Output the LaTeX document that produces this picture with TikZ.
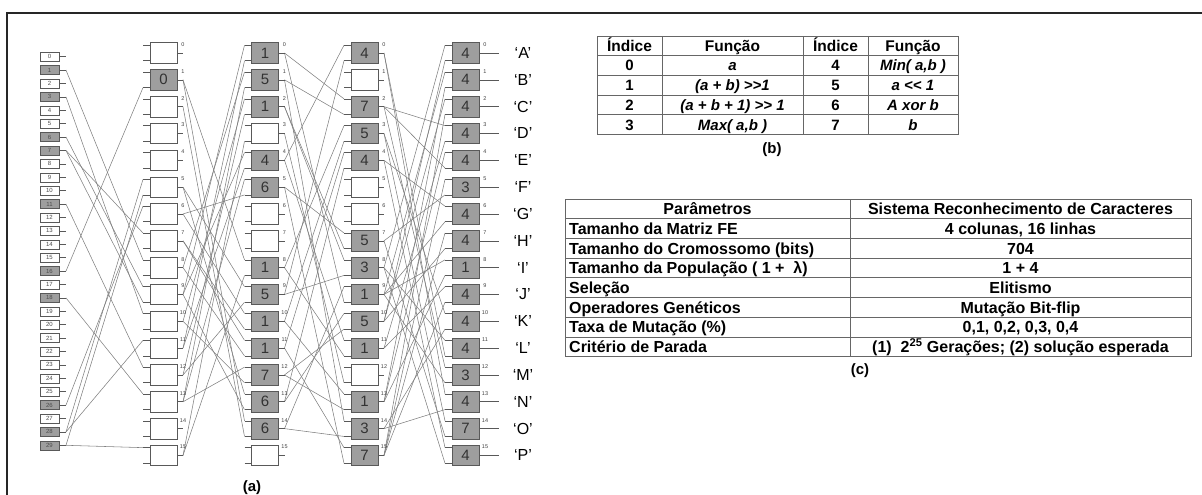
\documentclass[tikz,border=0pt]{standalone}
\usepackage{fontspec}
\setmainfont{Liberation Sans}
\setsansfont{Liberation Sans}

\begin{document}
\begin{tikzpicture}[
  x=1pt,y=-1pt,
  every node/.style={font=\sffamily},
  inbox/.style ={draw=black!65,line width=0.6pt,fill=white,
                 minimum width=19pt,minimum height=9pt,inner sep=0pt,
                 font=\sffamily\fontsize{6}{6}\selectfont,text=black!70},
  ingray/.style={inbox,fill=black!38},
  cell/.style  ={draw=black!65,line width=0.7pt,fill=white,
                 minimum width=27pt,minimum height=20.5pt,inner sep=0pt,
                 font=\sffamily\fontsize{15}{15}\selectfont,text=black!80},
  cellg/.style ={cell,fill=black!38},
  idx/.style   ={font=\sffamily\fontsize{5.5}{5.5}\selectfont,inner sep=0pt,text=black!75},
  stub/.style  ={black!65,line width=0.6pt},
  wire/.style  ={black!50,line width=0.55pt},
  outl/.style  ={font=\sffamily\fontsize{16}{16}\selectfont,inner sep=0pt},
  tgrid/.style ={black!60,line width=0.8pt},
  thead/.style ={font=\sffamily\bfseries\fontsize{15.5}{15.5}\selectfont,inner sep=0pt,
                 text height=11pt,text depth=0pt},
  tcell/.style ={font=\sffamily\bfseries\fontsize{15}{15}\selectfont,inner sep=0pt,
                 text height=10.8pt,text depth=0pt},
  tfun/.style  ={tcell,font=\sffamily\bfseries\itshape\fontsize{15}{15}\selectfont},
  ptext/.style ={font=\sffamily\bfseries\fontsize{16}{16}\selectfont,inner sep=0pt,
                 text height=11.5pt,text depth=0pt},
  sublabel/.style={font=\sffamily\bfseries\fontsize{15}{15}\selectfont,inner sep=0pt}
]
  \useasboundingbox (0,0) rectangle (1202,495);
  \draw[black!85,line width=1.6pt] (7,13) rectangle (1220,515);

  % ===== stub end points (inputs column, then the 4 x 16 matrix) =====
  \foreach \rr in {0,...,29}{
    \pgfmathsetmacro{\ry}{56.7+13.4*\rr}
    \coordinate (in\rr o) at (66,\ry);
  }
  \foreach \cc/\cx/\sl in {1/163.5/6,2/265/6,3/364.5/6,4/465.5/19.5}
    \foreach \rr in {0,...,15}{
      \pgfmathsetmacro{\ry}{53+26.83*\rr}
      \coordinate (c\cc n\rr a) at (\cx-20.5,\ry-7.8);
      \coordinate (c\cc n\rr b) at (\cx-20.5,\ry+7.8);
      \coordinate (c\cc n\rr o) at (\cx+13.5+\sl,\ry);
    }

  % ===== connections (drawn first, boxes go on top) =====
  % inputs -> column 1
  \foreach \src/\dst in {in1o/c1n8a,in3o/c1n10a,in6o/c1n9a,in7o/c1n7a,in7o/c1n9b,
      in11o/c1n12a,in16o/c1n1b,in18o/c1n13a,in26o/c1n6a,in28o/c1n11a,in28o/c1n5a,
      in29o/c1n15a,in29o/c1n5b}
    \draw[wire] (\src) -- (\dst);
  % column 1 -> column 2
  \foreach \src/\dst in {c1n9o/c2n0a,c1n11o/c2n0b,c1n8o/c2n1a,c1n13o/c2n1b,
      c1n10o/c2n2a,c1n12o/c2n2b,c1n15o/c2n3b,c1n9o/c2n4a,c1n11o/c2n4b,c1n13o/c2n5a,
      c1n6o/c2n5b,c1n1o/c2n8a,c1n15o/c2n8b,c1n5o/c2n9a,c1n12o/c2n9b,c1n6o/c2n10a,
      c1n7o/c2n10b,c1n7o/c2n11a,c1n8o/c2n11b,c1n13o/c2n12a,c1n10o/c2n12b,
      c1n5o/c2n13a,c1n9o/c2n13b,c1n1o/c2n14a,c1n2o/c2n14b}
    \draw[wire] (\src) -- (\dst);
  % column 2 -> column 3
  \foreach \src/\dst in {c2n4o/c3n0a,c2n9o/c3n0b,c2n0o/c3n2a,c2n1o/c3n2b,
      c2n8o/c3n3a,c2n10o/c3n3b,c2n11o/c3n4a,c2n13o/c3n4b,c2n5o/c3n7a,c2n2o/c3n7b,
      c2n2o/c3n8a,c2n9o/c3n8b,c2n14o/c3n9a,c2n0o/c3n9b,c2n13o/c3n10a,c2n12o/c3n10b,
      c2n4o/c3n11a,c2n8o/c3n11b,c2n10o/c3n13a,c2n12o/c3n13b,c2n1o/c3n14a,
      c2n14o/c3n14b,c2n11o/c3n15a,c2n5o/c3n15b,c2n3o/c3n12b}
    \draw[wire] (\src) -- (\dst);
  % column 3 -> column 4
  \foreach \src/\dst in {c3n8o/c4n0a,c3n10o/c4n0b,c3n9o/c4n1a,c3n13o/c4n1b,
      c3n10o/c4n2a,c3n15o/c4n2b,c3n2o/c4n3a,c3n11o/c4n3b,c3n13o/c4n4a,c3n2o/c4n4b,
      c3n15o/c4n5a,c3n7o/c4n5b,c3n4o/c4n6a,c3n9o/c4n6b,c3n15o/c4n7a,c3n10o/c4n7b,
      c3n9o/c4n8a,c3n13o/c4n8b,c3n11o/c4n9a,c3n15o/c4n9b,c3n3o/c4n10a,c3n14o/c4n10b,
      c3n8o/c4n11a,c3n0o/c4n11b,c3n2o/c4n12a,c3n9o/c4n12b,c3n0o/c4n13a,c3n14o/c4n13b,
      c3n3o/c4n14a,c3n7o/c4n14b,c3n4o/c4n15a,c3n8o/c4n15b}
    \draw[wire] (\src) -- (\dst);

  % ===== input column: 30 pixels, grey = used =====
  \foreach \g [count=\rr from 0] in {0,1,0,1,0,0,1,1,0,0,0,1,0,0,0,0,1,0,1,0,0,0,0,0,0,0,1,0,1,1}{
    \pgfmathsetmacro{\ry}{56.7+13.4*\rr}
    \ifnum\g=1 \node[ingray] (in\rr) at (49.5,\ry) {\rr};
    \else      \node[inbox]  (in\rr) at (49.5,\ry) {\rr};\fi
    \draw[stub] (in\rr.east) -- (in\rr o);
  }

  % ===== FE matrix: 4 columns x 16 rows ('-' = empty node) =====
  \foreach \cc/\cx/\vals in {1/163.5/{-,0,-,-,-,-,-,-,-,-,-,-,-,-,-,-},
                             2/265/{1,5,1,-,4,6,-,-,1,5,1,1,7,6,6,-},
                             3/364.5/{4,-,7,5,4,-,-,5,3,1,5,1,-,1,3,7},
                             4/465.5/{4,4,4,4,4,3,4,4,1,4,4,4,3,4,7,4}}
    \foreach \v [count=\rr from 0] in \vals {
      \pgfmathsetmacro{\ry}{53+26.83*\rr}
      \draw[stub] (c\cc n\rr a) -- +(7,0);
      \draw[stub] (c\cc n\rr b) -- +(7,0);
      \if\v- \node[cell] (c\cc n\rr) at (\cx,\ry) {};
      \else  \node[cellg] (c\cc n\rr) at (\cx,\ry) {\v};\fi
      \draw[stub] (c\cc n\rr.east) -- (c\cc n\rr o);
      \node[idx] (c\cc n\rr i) at (\cx+19.5,\ry-8.5) {\rr};
    }

  % ===== outputs =====
  \foreach \ch [count=\rr from 0] in {A,B,C,D,E,F,G,H,I,J,K,L,M,N,O,P}{
    \pgfmathsetmacro{\ry}{53+26.83*\rr}
    \node[outl] (out\rr) at (523,\ry) {‘\ch’};
  }
  \node[sublabel] (lbla) at (252,488) {(a)};

  % ===== table (b): function set =====
  \draw[tgrid] (597,36) rectangle (958,134.5);
  \foreach \yy in {55.7,75.4,95.1,114.8} \draw[tgrid] (597,\yy) -- (958,\yy);
  \foreach \xx in {662,803,868} \draw[tgrid] (\xx,36) -- (\xx,134.5);
  \node[thead] (bh1) at (629.5,45.85) {Índice};
  \node[thead] (bh2) at (732.5,45.85) {Função};
  \node[thead] (bh3) at (835.5,45.85) {Índice};
  \node[thead] (bh4) at (913,45.85)   {Função};
  \foreach \i/\fa/\j/\fb [count=\k from 0] in {0/a/4/{Min( a,b )},
      1/{(a + b) >{}>1}/5/{a <{}< 1},
      2/{(a + b + 1) >{}> 1}/6/{A xor b},
      3/{Max( a,b )}/7/b}{
    \pgfmathsetmacro{\ry}{65.55+19.7*\k}
    \node[tcell] (bi\k) at (629.5,\ry) {\i};
    \node[tfun]  (bf\k) at (732.5,\ry) {\fa};
    \node[tcell] (bj\k) at (835.5,\ry) {\j};
    \node[tfun]  (bg\k) at (913,\ry)   {\fb};
  }
  \node[sublabel] (lblb) at (772,150) {(b)};

  % ===== table (c): parameters =====
  \draw[tgrid] (565,199) rectangle (1191,356.6);
  \foreach \yy in {218.7,238.4,258.1,277.8,297.5,317.2,336.9}
    \draw[tgrid] (565,\yy) -- (1191,\yy);
  \draw[tgrid] (850,199) -- (850,356.6);
  \node[ptext] (ch1) at (707.5,208.85) {Parâmetros};
  \node[ptext] (ch2) at (1020.5,208.85) {Sistema Reconhecimento de Caracteres};
  \foreach \p/\q [count=\k from 1] in {Tamanho da Matriz FE/{4 colunas, 16 linhas},
      Tamanho do Cromossomo (bits)/704,
      Tamanho da População ( 1 +\ \ λ)/1 + 4,
      Seleção/Elitismo,
      Operadores Genéticos/Mutação Bit-flip,
      Taxa de Mutação (\%)/{0,1, 0,2, 0,3, 0,4},
      Critério de Parada/{(1)\ \ 2\textsuperscript{25} Gerações; (2) solução esperada}}{
    \pgfmathsetmacro{\ry}{208.85+19.7*\k}
    \node[ptext,anchor=west] (cp\k) at (569,\ry) {\p};
    \node[ptext] (cv\k) at (1020.5,\ry) {\q};
  }
  \node[sublabel] (lblc) at (860,371) {(c)};
\end{tikzpicture}
\end{document}
